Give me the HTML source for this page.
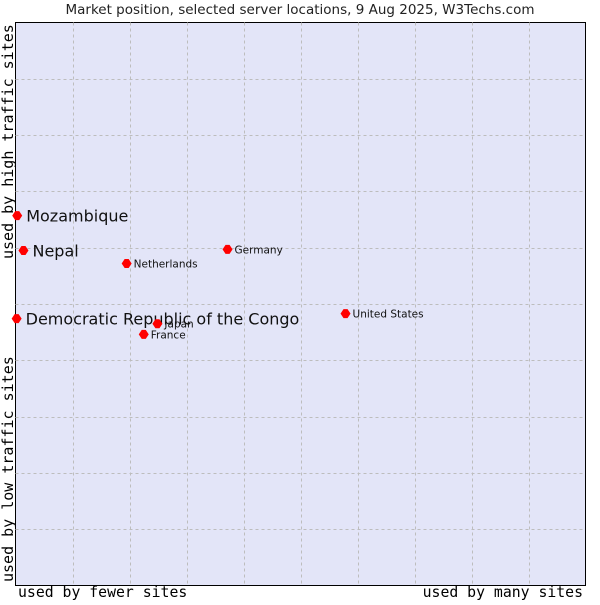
<!DOCTYPE html>
<html><head><meta charset="utf-8"><style>
body{margin:0;background:#fff;width:600px;height:600px;overflow:hidden}
svg{font-family:"DejaVu Sans","Liberation Sans",sans-serif}
</style></head><body>
<svg id="chart" width="600" height="600">
<text x="300" y="14" text-anchor="middle" font-size="13.5" fill="#222">Market position, selected server locations, 9 Aug 2025, W3Techs.com</text>
<rect x="15.5" y="22.5" width="570" height="563" fill="#e3e5f8" stroke="#000" stroke-width="1"/>
<g id="grid"></g>
<g id="marks"></g>
<text x="18" y="597" font-family="DejaVu Sans Mono,Liberation Mono,monospace" font-size="14.8" fill="#000">used by fewer sites</text>
<text x="583" y="597" text-anchor="end" font-family="DejaVu Sans Mono,Liberation Mono,monospace" font-size="14.8" fill="#000">used by many sites</text>
<text transform="translate(13,582) rotate(-90)" font-family="DejaVu Sans Mono,Liberation Mono,monospace" font-size="15" fill="#000">used by low traffic sites</text>
<text transform="translate(13,259) rotate(-90)" font-family="DejaVu Sans Mono,Liberation Mono,monospace" font-size="15" fill="#000">used by high traffic sites</text>
</svg>
<script>
const names=["Mozambique","Nepal","Democratic Republic of the Congo","Netherlands","Germany","Japan","France","United States"];
const xVals=[0.3,1.4,0.2,19.5,37.2,24.9,22.5,57.9];
const yVals=[65.7,59.5,47.4,57.2,59.7,46.5,44.6,48.3];
const big=[true,true,true,false,false,false,false,false];
const L=15.5,R=585.5,T=22.5,B=585.5;
const sx=v=>L+v/100*(R-L), sy=v=>B-v/100*(B-T);
const NS="http://www.w3.org/2000/svg";
const grid=document.getElementById('grid'), marks=document.getElementById('marks');
for(let i=1;i<10;i++){
 const x=Math.round(L+i*(R-L)/10)+0.5, y=Math.round(T+i*(B-T)/10)+0.5;
 const v=document.createElementNS(NS,'line');
 
 
 v.setAttribute('x1',x);v.setAttribute('x2',x);v.setAttribute('y1',T);v.setAttribute('y2',B);
 v.setAttribute('stroke','#bdbdbd');v.setAttribute('stroke-dasharray','3,3');grid.appendChild(v);
 const h=document.createElementNS(NS,'line');
 
 
 h.setAttribute('x1',L);h.setAttribute('x2',R);h.setAttribute('y1',y);h.setAttribute('y2',y);
 h.setAttribute('stroke','#bdbdbd');h.setAttribute('stroke-dasharray','3,3');grid.appendChild(h);
}
names.forEach((n,i)=>{
 const x=sx(xVals[i]), y=sy(yVals[i]);
 const p=document.createElementNS(NS,'path');
 
 
 p.setAttribute('d',`M${x-5},${y} L${x-2},${y-4.5} L${x+2},${y-4.5} L${x+5},${y} L${x+2},${y+4.5} L${x-2},${y+4.5} Z`);
 p.setAttribute('fill','#ff0000');marks.appendChild(p);
 const t=document.createElementNS(NS,'text');
 
 
 t.setAttribute('x',x+(big[i]?9:7));t.setAttribute('y',y+(big[i]?6:4));
 t.setAttribute('font-size',big[i]?16:10.5);t.setAttribute('fill','#111');
 t.textContent=n;marks.appendChild(t);
});
</script>
</body></html>
